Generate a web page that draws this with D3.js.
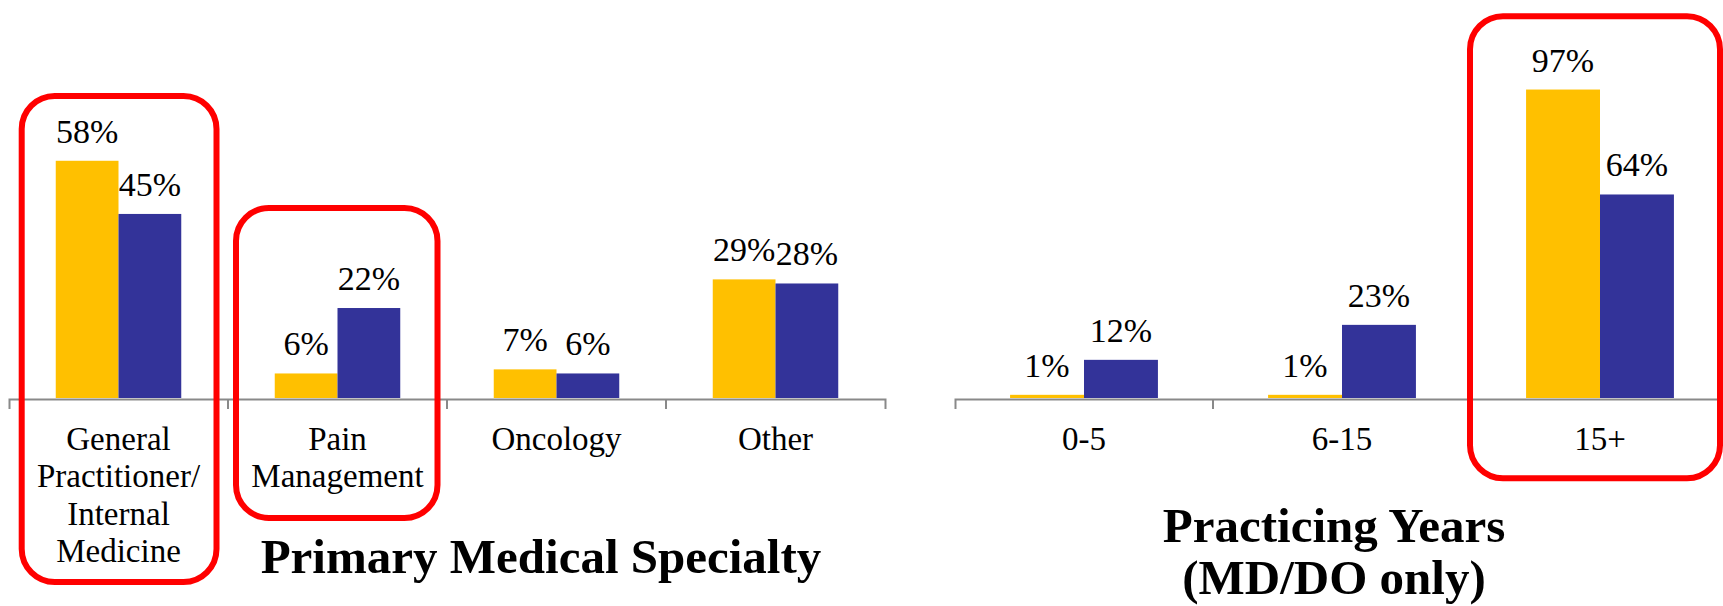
<!DOCTYPE html>
<html>
<head>
<meta charset="utf-8">
<script src="https://cdn.jsdelivr.net/npm/d3@7"></script>
<style>
  body { margin: 0; background: #fff; }
  text { font-family: "Liberation Serif", serif; fill: #000; }
</style>
</head>
<body>
<div class="viz"></div>
<script>
const w = 1723;
const h = 606;

// primary medical specialty
const specCats = ["General Practitioner/ Internal Medicine", "Pain Management", "Oncology", "Other"];
const specLabels = [["General", "Practitioner/", "Internal", "Medicine"], ["Pain", "Management"], ["Oncology"], ["Other"]];
const specA = [58, 6, 7, 29];
const specB = [45, 22, 6, 28];

// practicing years
const yearCats = ["0-5", "6-15", "15+"];
const yearLabels = [["0-5"], ["6-15"], ["15+"]];
const yearA = [1, 1, 97];
const yearB = [12, 23, 64];

const seriesKeys = ["a", "b"];
const colors = {a: "#FFC000", b: "#333399"};

const svg = d3.select(".viz")
    .append("svg")
    .attr("width", w)
    .attr("height", h);

const baseY = 398;

function drawChart(cats, labels, valsA, valsB, x0range, yTop, title) {
    const x0 = d3.scaleBand()
        .domain(cats)
        .range(x0range)
        .paddingInner(0)
        .paddingOuter(0);

    const x1 = d3.scaleBand()
        .domain(seriesKeys)
        .range([0, x0.bandwidth()])
        .paddingInner(0)
        .paddingOuter(0.745);

    const y = d3.scaleLinear()
        .domain([0, 100])
        .range([baseY, yTop]);

    const rows = cats.map((c, i) => ({cat: c, lines: labels[i], a: valsA[i], b: valsB[i]}));

    const g = svg.append("g");

    const groups = g.selectAll("g.cat")
        .data(rows)
        .enter()
        .append("g")
        .attr("class", "cat")
        .attr("transform", d => `translate(${x0(d.cat)},0)`);

    groups.selectAll("rect")
        .data(d => seriesKeys.map(k => ({key: k, value: d[k]})))
        .enter()
        .append("rect")
        .attr("x", d => x1(d.key))
        .attr("y", d => y(d.value))
        .attr("width", x1.bandwidth())
        .attr("height", d => baseY - y(d.value))
        .style("fill", d => colors[d.key]);

    groups.selectAll("text.val")
        .data(d => seriesKeys.map(k => ({key: k, value: d[k]})))
        .enter()
        .append("text")
        .attr("class", "val")
        .attr("x", d => x1(d.key) + x1.bandwidth() / 2)
        .attr("y", d => y(d.value) - 18)
        .attr("text-anchor", "middle")
        .style("font-size", "34px")
        .text(d => d.value + "%");

    // axis line with outer ticks
    const axis = g.append("g")
        .attr("transform", `translate(0,${baseY + 1})`)
        .call(d3.axisBottom(x0).tickSize(0).tickSizeOuter(10).tickFormat(""));
    axis.select(".domain").attr("stroke", "#898989").attr("stroke-width", 2);

    // inner ticks at category boundaries
    g.selectAll("line.tick")
        .data(cats.slice(1))
        .enter()
        .append("line")
        .attr("x1", d => x0(d))
        .attr("x2", d => x0(d))
        .attr("y1", baseY + 1)
        .attr("y2", baseY + 11)
        .attr("stroke", "#898989")
        .attr("stroke-width", 2);

    // category labels
    const lab = g.selectAll("text.cat")
        .data(rows)
        .enter()
        .append("text")
        .attr("class", "cat")
        .attr("text-anchor", "middle")
        .style("font-size", "33px");
    lab.selectAll("tspan")
        .data(d => d.lines.map(l => ({l: l, x: x0(d.cat) + x0.bandwidth() / 2})))
        .enter()
        .append("tspan")
        .attr("x", d => d.x)
        .attr("y", (d, i) => 450 + i * 37.3)
        .text(d => d.l);

    return x0;
}

const xs = drawChart(specCats, specLabels, specA, specB, [9, 885], -11);
const xy = drawChart(yearCats, yearLabels, yearA, yearB, [955, 1729], 80);

// titles
svg.append("text")
    .attr("x", 541)
    .attr("y", 573)
    .attr("text-anchor", "middle")
    .style("font-size", "49px")
    .style("font-weight", "bold")
    .text("Primary Medical Specialty");

svg.append("text")
    .attr("text-anchor", "middle")
    .style("font-size", "49px")
    .style("font-weight", "bold")
    .selectAll("tspan")
    .data(["Practicing Years", "(MD/DO only)"])
    .enter()
    .append("tspan")
    .attr("x", 1334)
    .attr("y", (d, i) => 542 + i * 52)
    .text(d => d);

// red highlight boxes
const boxes = [
    {x: xs("General Practitioner/ Internal Medicine") + 12.7, x2: xs("Pain Management") - 11.5, y: 96, y2: 582},
    {x: xs("Pain Management") + 8, x2: xs("Oncology") - 9.5, y: 208, y2: 518},
    {x: xy("15+") - 1, x2: xy("15+") + xy.bandwidth() - 9, y: 16.3, y2: 478.3}
];

svg.selectAll("rect.box")
    .data(boxes)
    .enter()
    .append("rect")
    .attr("class", "box")
    .attr("x", d => d.x)
    .attr("y", d => d.y)
    .attr("width", d => d.x2 - d.x)
    .attr("height", d => d.y2 - d.y)
    .attr("rx", 33)
    .attr("ry", 33)
    .style("fill", "none")
    .style("stroke", "#FF0000")
    .style("stroke-width", 6);
</script>
</body>
</html>
